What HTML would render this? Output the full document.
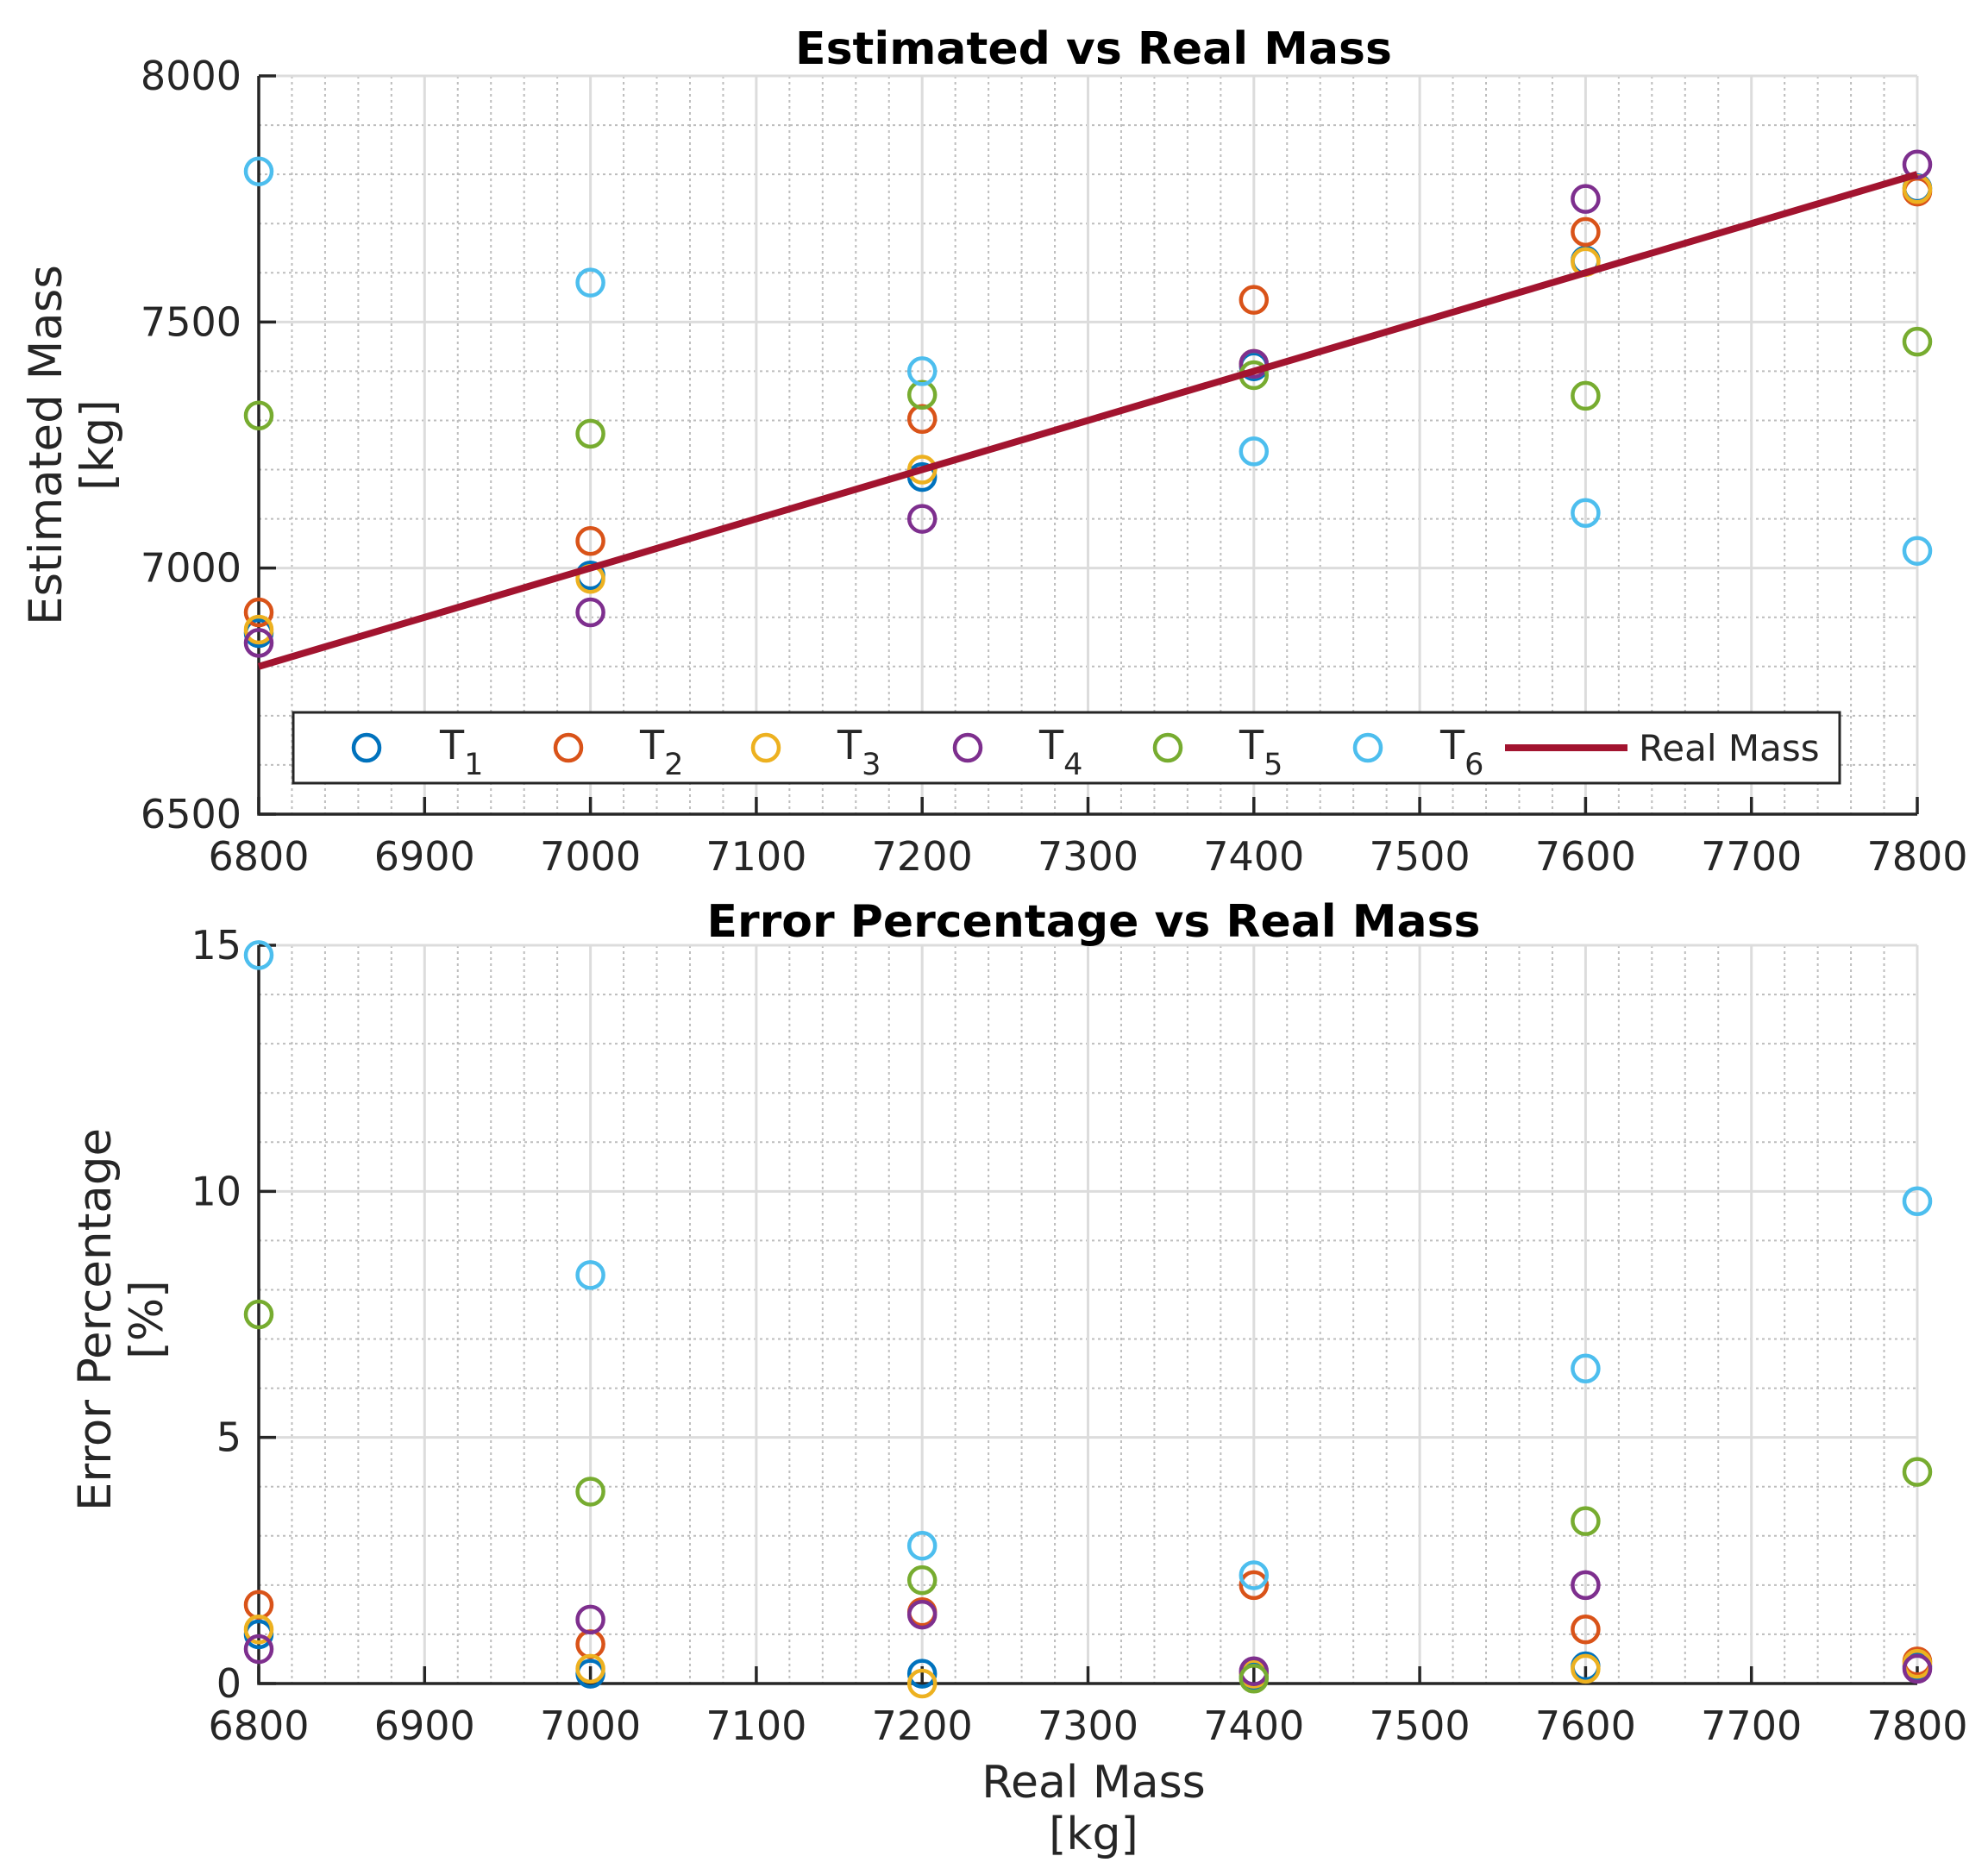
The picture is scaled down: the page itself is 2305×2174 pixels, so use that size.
<!DOCTYPE html>
<html><head><meta charset="utf-8">
<style>
html,body{margin:0;padding:0;background:#fff;}
svg{display:block;font-family:"DejaVu Sans","Liberation Sans",sans-serif;}
</style></head>
<body>
<svg id="fig" width="2305" height="2174" viewBox="0 0 2305 2174" xmlns="http://www.w3.org/2000/svg">
<rect x="0" y="0" width="2305" height="2174" fill="#fff"/>
<g id="top"></g>
<g id="bot"></g>
</svg>
<script>
const categories = [6800, 7000, 7200, 7400, 7600, 7800];
const seriesNames = ["T1","T2","T3","T4","T5","T6"];
const est1 = [6868, 6985, 7185, 7410, 7625, 7772];
const est2 = [6910, 7055, 7303, 7545, 7683, 7765];
const est3 = [6875, 6978, 7200, 7415, 7622, 7770];
const est4 = [6848, 6910, 7100, 7415, 7750, 7820];
const est5 = [7310, 7273, 7352, 7392, 7350, 7460];
const est6 = [7806, 7580, 7400, 7237, 7112, 7035];
const err1 = [1.0, 0.2, 0.2, 0.15, 0.35, 0.35];
const err2 = [1.6, 0.8, 1.45, 2.0, 1.1, 0.45];
const err3 = [1.1, 0.3, 0.0, 0.2, 0.3, 0.4];
const err4 = [0.7, 1.3, 1.4, 0.25, 2.0, 0.3];
const err5 = [7.5, 3.9, 2.1, 0.1, 3.3, 4.3];
const err6 = [14.8, 8.3, 2.8, 2.2, 6.4, 9.8];
const xTicks = [6800, 6900, 7000, 7100, 7200, 7300, 7400, 7500, 7600, 7700, 7800];
const yTicksTop = [6500, 7000, 7500, 8000];
const yTicksBot = [0, 5, 10, 15];

const colors = ["#0072BD","#D95319","#EDB120","#7E2F8E","#77AC30","#4DBEEE"];
const NS = "http://www.w3.org/2000/svg";
const X0 = 300, X1 = 2223;
function xs(v){ return X0 + (v - 6800) / 1000 * (X1 - X0); }
function mk(tag, attrs, parent){
  const e = document.createElementNS(NS, tag);
  for (const k in attrs) e.setAttribute(k, attrs[k]);
  parent.appendChild(e); return e;
}
function txt(s, x, y, size, parent, extra){
  const t = mk("text", Object.assign({x:x, y:y, "font-size":size, fill:"#262626"}, extra||{}), parent);
  t.textContent = s; return t;
}

function drawAxes(g, ys, yMin, yMax, yMajor, yMinorStep, yTicks, Y0, Y1){
  for (let v = 6800; v <= 7800; v += 20) {
    if (v % 100 === 0) continue;
    const l = mk("line", {x1:xs(v), x2:xs(v), y1:Y1, y2:Y0, stroke:"#bdbdbd", "stroke-width":2, "stroke-dasharray":"3,4"}, g);
    
    
  }
  for (let v = yMin; v <= yMax + 1e-9; v += yMinorStep) {
    if (Math.abs(v / yMajor - Math.round(v / yMajor)) < 1e-6) continue;
    const l = mk("line", {x1:X0, x2:X1, y1:ys(v), y2:ys(v), stroke:"#bdbdbd", "stroke-width":2, "stroke-dasharray":"3,4"}, g);
    
    
  }
  xTicks.forEach(v => {
    const l = mk("line", {x1:xs(v), x2:xs(v), y1:Y1, y2:Y0, stroke:"#dcdcdc", "stroke-width":3}, g);
    
    
  });
  yTicks.forEach(v => {
    const l = mk("line", {x1:X0, x2:X1, y1:ys(v), y2:ys(v), stroke:"#dcdcdc", "stroke-width":3}, g);
    
    
  });
  const ax = mk("path", {d:`M${X0},${Y1} L${X0},${Y0} L${X1},${Y0}`, stroke:"#262626", "stroke-width":3.5, fill:"none"}, g);
  
  
  xTicks.forEach(v => {
    const t = mk("line", {x1:xs(v), x2:xs(v), y1:Y0, y2:Y0-20, stroke:"#262626", "stroke-width":3.5}, g);
    
    
    const lb = txt(String(v), xs(v), Y0 + 65, 46, g, {"text-anchor":"middle"});
    
    
  });
  yTicks.forEach(v => {
    const t = mk("line", {x1:X0, x2:X0+20, y1:ys(v), y2:ys(v), stroke:"#262626", "stroke-width":3.5}, g);
    
    
    const lb = txt(String(v), 280, ys(v) + 16, 46, g, {"text-anchor":"end"});
    
    
  });
}

function drawMarkers(g, ys, data){
  data.forEach((arr, si) => {
    arr.forEach((v, i) => {
      const c = mk("circle", {cx:xs(categories[i]), cy:ys(v), r:15, fill:"none", stroke:colors[si], "stroke-width":4.5}, g);
      
      
    });
  });
}

// TOP CHART
(function(){
  const g = document.getElementById("top");
  const Y0 = 944, Y1 = 88;
  const ys = v => Y0 - (v - 6500) / 1500 * (Y0 - Y1);
  drawAxes(g, ys, 6500, 8000, 500, 100, yTicksTop, Y0, Y1);
  drawMarkers(g, ys, [est1, est2, est3, est4, est5, est6]);
  const rl = mk("line", {x1:xs(categories[0]), y1:ys(categories[0]), x2:xs(categories[5]), y2:ys(categories[5]), stroke:"#A2142F", "stroke-width":8}, g);
  
  
  const t = txt("Estimated vs Real Mass", 1268, 74, 52, g, {"text-anchor":"middle", "font-weight":"bold", fill:"#000"});
  
  
  const yl = mk("g", {transform:"translate(71,516) rotate(-90)"}, g);
  
  
  txt("Estimated Mass", 0, 0, 53, yl, {"text-anchor":"middle"});
  txt("[kg]", 0, 60, 53, yl, {"text-anchor":"middle"});
  const lg = mk("g", {}, g);
  
  
  mk("rect", {x:340, y:826, width:1793, height:82, fill:"#fff", stroke:"#262626", "stroke-width":3}, lg);
  const mx = [425, 659, 888, 1122, 1354, 1586];
  const tx = [510, 742, 971, 1205, 1437, 1670];
  seriesNames.forEach((n, i) => {
    const e = mk("g", {}, lg);
    
    
    mk("circle", {cx:mx[i], cy:867, r:15, fill:"none", stroke:colors[i], "stroke-width":4.5}, e);
    const tt = txt("T", tx[i], 880, 46, e);
    const sub = mk("tspan", {dy:18, "font-size":35}, tt);
    sub.textContent = n.slice(1);
  });
  const re = mk("g", {}, lg);
  
  
  mk("line", {x1:1745, x2:1887, y1:867, y2:867, stroke:"#A2142F", "stroke-width":8}, re);
  txt("Real Mass", 1900, 882, 42, re);
})();

// BOTTOM CHART
(function(){
  const g = document.getElementById("bot");
  const Y0 = 1952, Y1 = 1096;
  const ys = v => Y0 - v / 15 * (Y0 - Y1);
  drawAxes(g, ys, 0, 15, 5, 1, yTicksBot, Y0, Y1);
  drawMarkers(g, ys, [err1, err2, err3, err4, err5, err6]);
  const t = txt("Error Percentage vs Real Mass", 1268, 1086, 52, g, {"text-anchor":"middle", "font-weight":"bold", fill:"#000"});
  
  
  const yl = mk("g", {transform:"translate(128,1530) rotate(-90)"}, g);
  
  
  txt("Error Percentage", 0, 0, 53, yl, {"text-anchor":"middle"});
  txt("[%]", 0, 60, 53, yl, {"text-anchor":"middle"});
  const xl = mk("g", {}, g);
  
  
  txt("Real Mass", 1268, 2084, 52, xl, {"text-anchor":"middle"});
  txt("[kg]", 1268, 2144, 52, xl, {"text-anchor":"middle"});
})();
</script>
</body></html>
